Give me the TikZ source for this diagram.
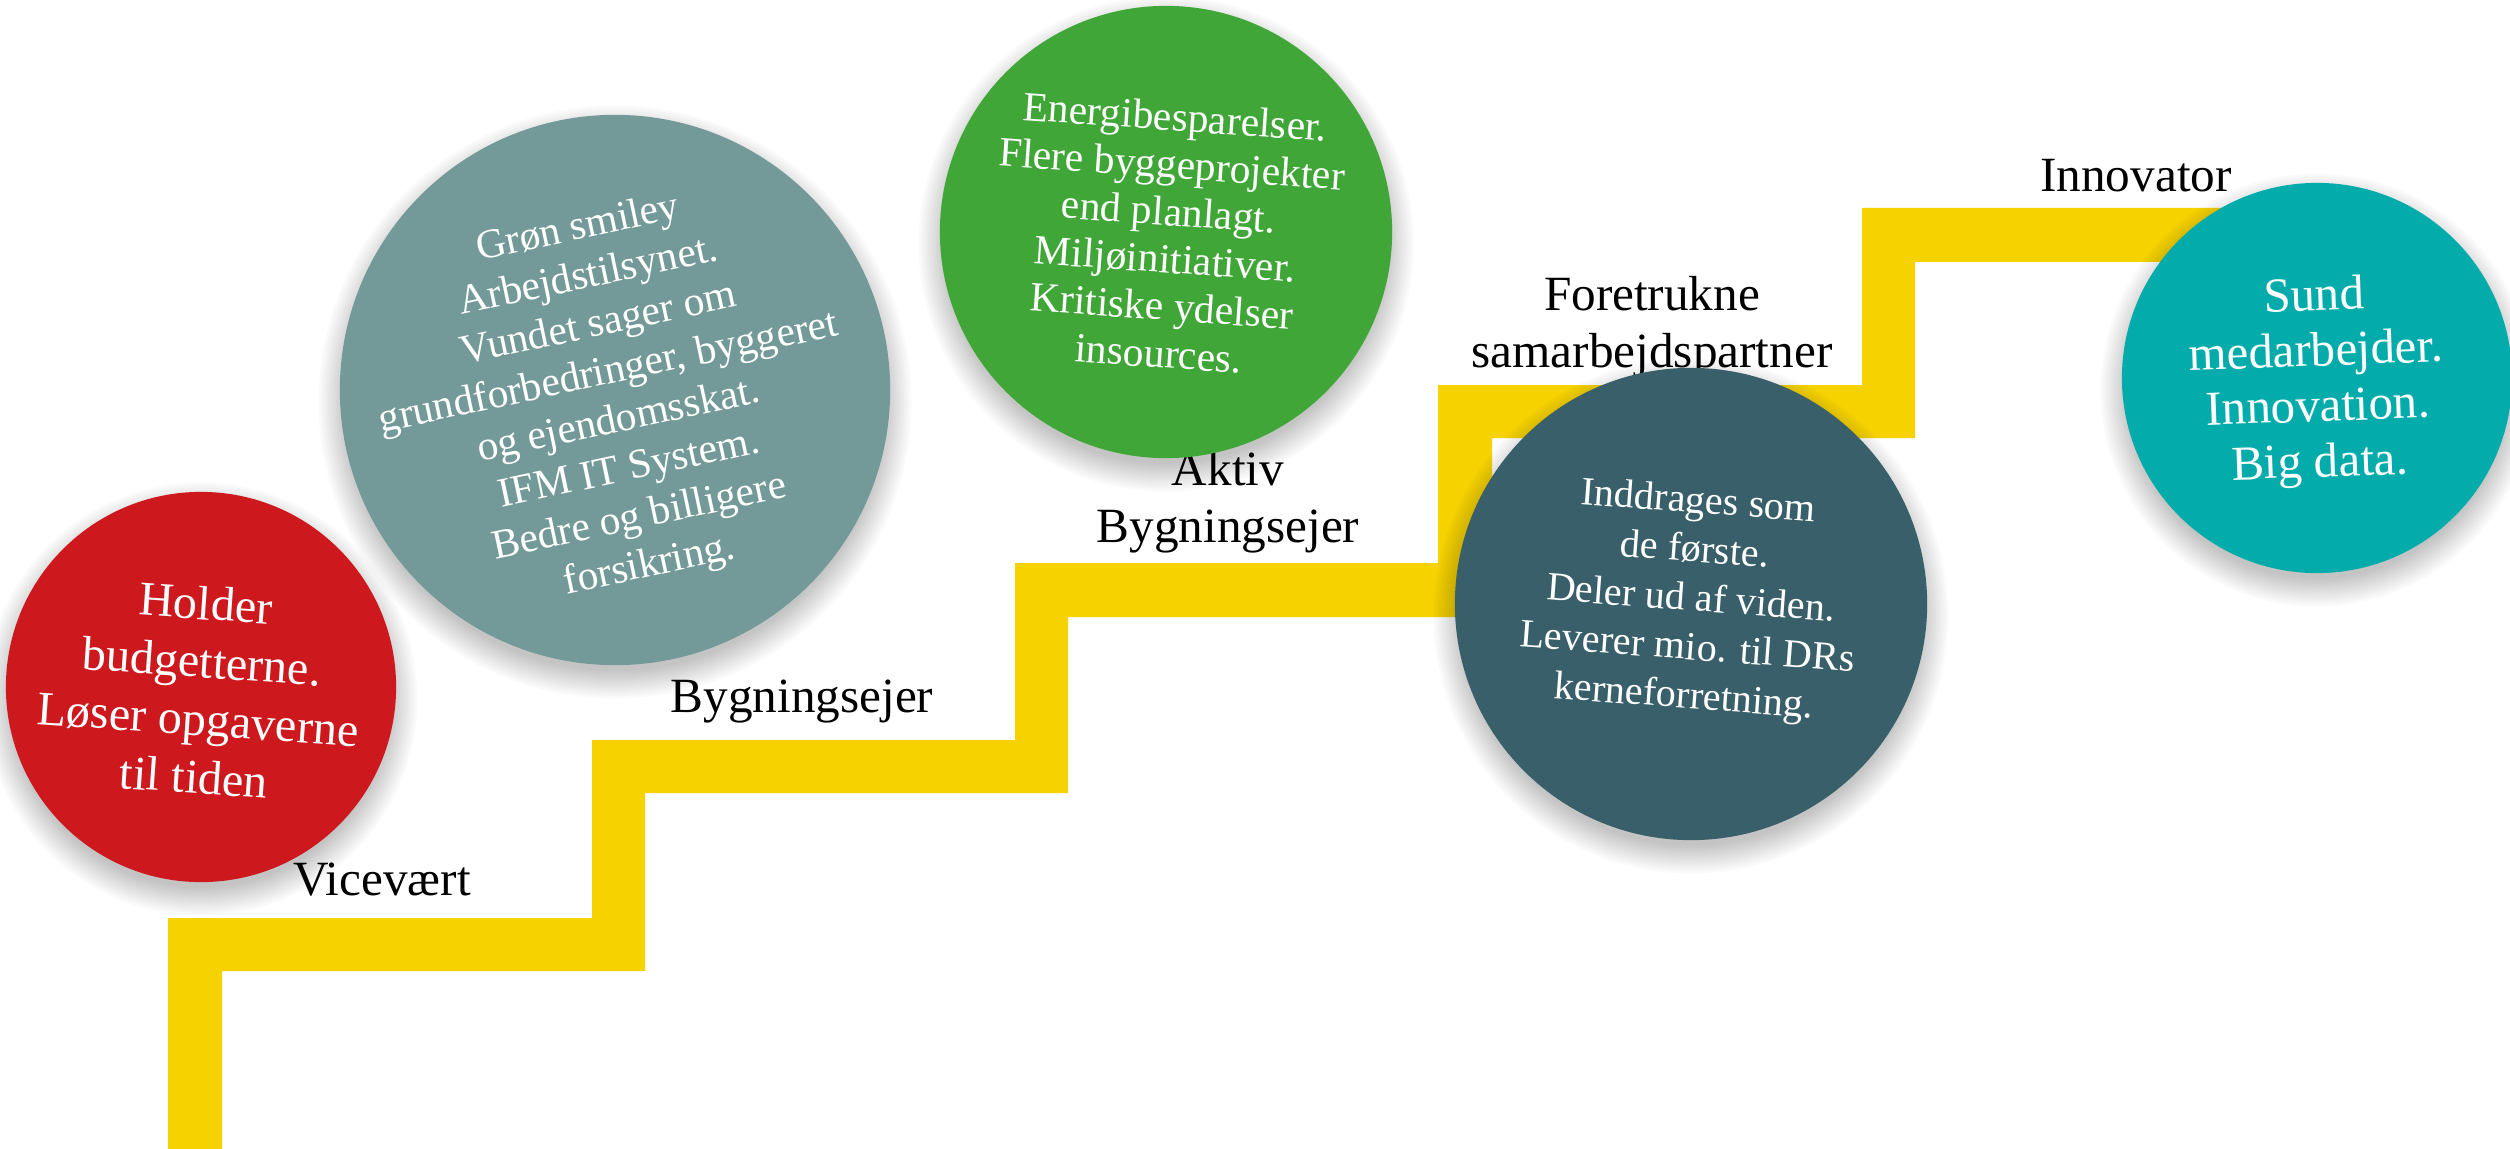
\documentclass[tikz,border=0pt]{standalone}
\usepackage{fontspec}
\setmainfont{Liberation Serif}
\definecolor{stairY}{HTML}{F5D200}
\definecolor{cRed}{HTML}{CD181E}
\definecolor{cGray}{HTML}{739A98}
\definecolor{cGreen}{HTML}{40A637}
\definecolor{cDark}{HTML}{39606A}
\definecolor{cTeal}{HTML}{03ACAA}
\newcommand\ballshadow[2]{%
  \foreach \k in {0,...,11}{%
    \fill[black, opacity=0.02] ([yshift=-0.12cm]#1) circle[radius={(#2-6+2.5*\k)*0.01cm}];
  }}
\begin{document}
\begin{tikzpicture}[x=0.01cm, y=-0.01cm,
  ball/.style={circle, inner sep=0pt, minimum size=#1},
  balltext/.style={text=white, align=center, inner sep=0pt, anchor=center},
  lab/.style={font=\fontsize{14}{16.2}\selectfont, align=center, inner sep=0pt, text=black}]
\useasboundingbox (0,0) rectangle (2510,1149);
\fill[white] (0,0) rectangle (2510,1149);

% staircase
\fill[stairY] (168,1160) -- (168,918) -- (592,918) -- (592,740) -- (1015,740)
  -- (1015,563) -- (1438,563) -- (1438,385) -- (1862,385) -- (1862,208)
  -- (2250,208) -- (2250,262) -- (1915,262) -- (1915,438) -- (1492,438)
  -- (1492,617) -- (1068,617) -- (1068,793) -- (645,793) -- (645,971)
  -- (222,971) -- (222,1160) -- cycle;

% step labels
\node[lab, anchor=base] (l1) at (382,895) {Vicevært};
\node[lab, anchor=base] (l2) at (802,712) {Bygningsejer};
\node[lab, anchor=center] (l3) at (1228,502) {Aktiv\\Bygningsejer};
\node[lab, anchor=center] (l4) at (1652,327) {Foretrukne\\samarbejdspartner};
\node[lab, anchor=base] (l5) at (2136,192) {Innovator};

% circle centres
\coordinate (cR) at (201,687);
\coordinate (cG) at (615,390);
\coordinate (cE) at (1166,232);
\coordinate (cD) at (1691,604);
\coordinate (cT) at (2317,378);

% shadows
\ballshadow{cR}{195}
\ballshadow{cG}{275}
\ballshadow{cE}{226}
\ballshadow{cD}{236}
\ballshadow{cT}{195}

% circles
\node[ball=3.9cm, fill=cRed] (red) at (cR) {};
\node[ball=5.5cm, fill=cGray] (gray) at (cG) {};
\node[ball=4.52cm, fill=cGreen] (green) at (cE) {};
\node[ball=4.72cm, fill=cDark] (dark) at (cD) {};
\node[ball=3.9cm, fill=cTeal] (teal) at (cT) {};

% circle texts
\node[balltext, rotate=-4, font=\fontsize{13.7}{16.5}\selectfont] (redt) at (200,690)
  {Holder\\budgetterne.\\Løser opgaverne\\til tiden};
\node[balltext, rotate=12, font=\fontsize{11.8}{14}\selectfont] (grayt) at (614,398)
  {Grøn smiley\\Arbejdstilsynet.\\Vundet sager om\\grundforbedringer, byggeret\\og ejendomsskat.\\IFM IT System.\\Bedre og billigere\\forsikring.};
\node[balltext, rotate=-4, font=\fontsize{11.8}{13.5}\selectfont] (greent) at (1167,235)
  {Energibesparelser.\\Flere byggeprojekter\\end planlagt.\\Miljøinitiativer.\\Kritiske ydelser\\insources.};
\node[balltext, rotate=-4.3, font=\fontsize{11.4}{13.9}\selectfont] (darkt) at (1691,601)
  {Inddrages som\\de første.\\Deler ud af viden.\\Leverer mio. til DRs\\kerneforretning.};
\node[balltext, rotate=2, font=\fontsize{13.9}{15.8}\selectfont] (tealt) at (2317,382)
  {Sund\\medarbejder.\\Innovation.\\Big data.};
\end{tikzpicture}
\end{document}
